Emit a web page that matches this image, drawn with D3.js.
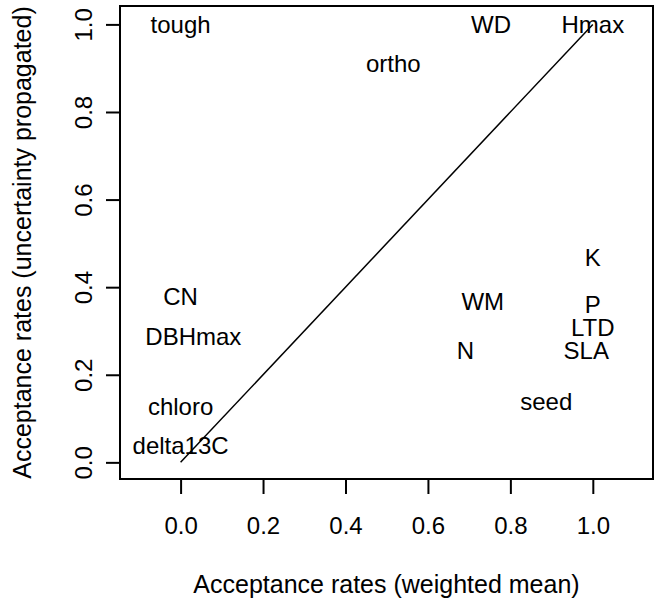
<!DOCTYPE html>
<html><head><meta charset="utf-8">
<script src="https://cdn.jsdelivr.net/npm/d3@7"></script>
<style>
html,body{margin:0;padding:0;background:#fff;}
text{font-family:"Liberation Sans",Arial,Helvetica,sans-serif;fill:#000;}
</style></head>
<body>
<svg id="chart" width="660" height="605"></svg>
<script>
const labels = ["tough","ortho","WD","Hmax","CN","DBHmax","chloro","delta13C","K","WM","P","LTD","SLA","N","seed"];
const weightedMean = [0.0,0.516,0.753,1.0,0.0,0.031,0.0,0.0,1.0,0.733,1.0,1.0,0.984,0.691,0.887];
const uncertaintyProp = [1.0,0.91,1.0,1.0,0.378,0.287,0.127,0.0395,0.467,0.367,0.36,0.308,0.256,0.256,0.139];
const xTicks = [0,0.2,0.4,0.6,0.8,1.0];
const yTicks = [0,0.2,0.4,0.6,0.8,1.0];
const xTitle = "Acceptance rates (weighted mean)";
const yTitle = "Acceptance rates (uncertainty propagated)";

const fs = 24;
const titleFs = 25;
const box = {l:120, r:653, t:6, b:479};
const svg = d3.select("#chart");
const x = d3.scaleLinear().domain([-0.147,1.146]).range([box.l, box.r]);
const y = d3.scaleLinear().domain([-0.038,1.042]).range([box.b, box.t]);

// identity line
svg.append("line")
  .attr("x1", x(0)).attr("y1", y(0)).attr("x2", x(1)).attr("y2", y(1))
  .attr("stroke","#000").attr("stroke-width",1.5);

// labels
svg.append("g").selectAll("text").data(labels).join("text")
  .attr("x",(d,i)=>x(weightedMean[i]))
  .attr("y",(d,i)=>y(uncertaintyProp[i]) + 0.358*fs)
  .attr("text-anchor","middle")
  .attr("font-size",fs)
  .text(d=>d);

// box
svg.append("rect").attr("x",box.l).attr("y",box.t)
  .attr("width",box.r-box.l).attr("height",box.b-box.t)
  .attr("fill","none").attr("stroke","#000").attr("stroke-width",2);

// x axis
const xa = svg.append("g").attr("transform",`translate(0,${box.b})`)
  .call(d3.axisBottom(x).tickValues(xTicks).tickSize(15).tickFormat(d3.format(".1f")));
xa.select(".domain").remove();
xa.selectAll(".tick line").attr("stroke","#000").attr("stroke-width",2);
xa.selectAll(".tick text").attr("font-size",fs).attr("font-family",null).attr("dy",null)
  .attr("y",55).attr("fill","#000");

// y axis
const ya = svg.append("g").attr("transform",`translate(${box.l},0)`)
  .call(d3.axisLeft(y).tickValues(yTicks).tickSize(14).tickFormat(d3.format(".1f")));
ya.select(".domain").remove();
ya.selectAll(".tick line").attr("stroke","#000").attr("stroke-width",2);
ya.selectAll(".tick text").attr("font-size",fs).attr("font-family",null)
  .attr("x",null).attr("dy",null)
  .attr("text-anchor","middle")
  .attr("transform",`translate(${92-box.l},0) rotate(-90)`)
  .attr("fill","#000");

// titles
svg.append("text").attr("x",(box.l+box.r)/2).attr("y",593)
  .attr("text-anchor","middle").attr("font-size",titleFs).text(xTitle);
svg.append("text").attr("transform",`translate(31,${(box.t+box.b)/2}) rotate(-90)`)
  .attr("text-anchor","middle").attr("font-size",titleFs).text(yTitle);
</script>
</body></html>
